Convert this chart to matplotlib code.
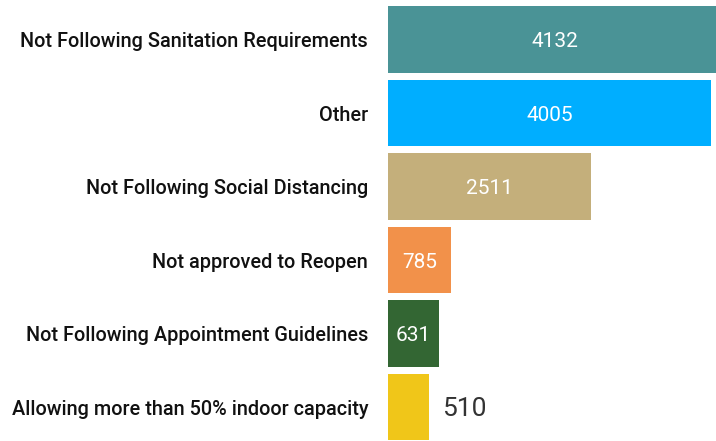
import matplotlib

matplotlib.use("Agg")

import matplotlib.pyplot as plt

categories = [
    "Not Following Sanitation Requirements",
    "Other",
    "Not Following Social Distancing",
    "Not approved to Reopen",
    "Not Following Appointment Guidelines",
    "Allowing more than 50% indoor capacity",
]
counts = [4132, 4005, 2511, 785, 631, 510]
colors = ["#4A9396", "#00AEFF", "#C4AF7B", "#F2914A", "#336633", "#F0C619"]

plt.rcParams["font.family"] = ["Roboto", "DejaVu Sans"]

fig = plt.figure(figsize=(7.16, 4.41), dpi=100)
ax = fig.add_axes([388 / 716, 0, 1 - 388 / 716, 1])

# scale chosen so that the longest bar runs off the right edge, as in the original
px = 0.0807  # pixels per unit
y = range(len(categories))
ax.barh(y, counts, height=0.91, color=colors)
ax.set_xlim(0, 328 / px)
ax.set_ylim(5.463, -0.537)

for i, (c, v) in enumerate(zip(categories, counts)):
    ax.text(-20 / px, i + 0.03, c, ha="right", va="center", fontsize=14.3,
            fontweight="medium", color="#111111")
    if v > 600:
        ax.text(v / 2, i + 0.03, str(v), ha="center", va="center",
                fontsize=15, color="white")
    else:
        ax.text(v + 13 / px, i + 0.03, str(v), ha="left", va="center",
                fontsize=19, color="#333333")

ax.axis("off")
fig.savefig("out.png", dpi=100)
